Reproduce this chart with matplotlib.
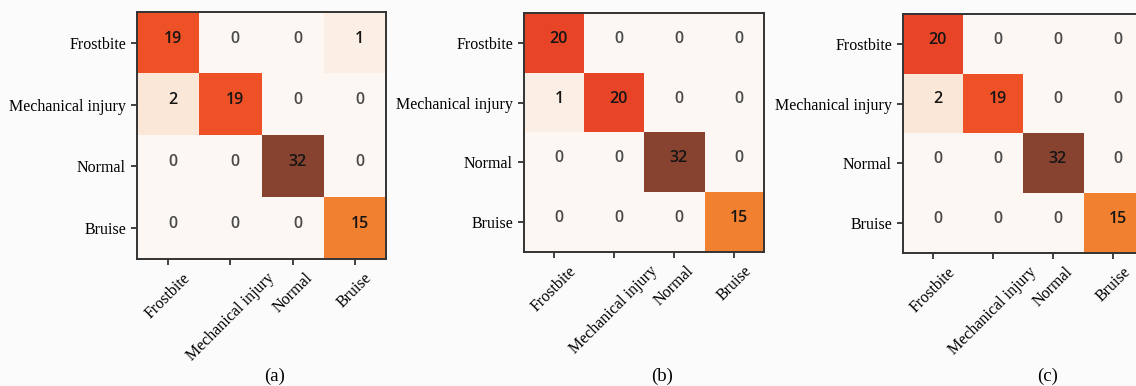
import numpy as np
import matplotlib
matplotlib.use("Agg")
import matplotlib.pyplot as plt
from matplotlib.colors import LinearSegmentedColormap

# Class names shared by every confusion matrix
classes = ["Frostbite", "Mechanical injury", "Normal", "Bruise"]

# Confusion matrices (rows: true class, columns: predicted class)
cm_a = [[19, 0, 0, 1],
        [2, 19, 0, 0],
        [0, 0, 32, 0],
        [0, 0, 0, 15]]
cm_b = [[20, 0, 0, 0],
        [1, 20, 0, 0],
        [0, 0, 32, 0],
        [0, 0, 0, 15]]
cm_c = [[20, 0, 0, 0],
        [2, 19, 0, 0],
        [0, 0, 32, 0],
        [0, 0, 0, 15]]
panel_labels = ["(a)", "(b)", "(c)"]

# Warm sequential palette: cream -> orange -> red-orange -> brown
cmap = LinearSegmentedColormap.from_list(
    "warm",
    [(0.0, "#fcf7f2"), (15 / 32, "#f28131"), (19 / 32, "#ef5226"),
     (20 / 32, "#e94628"), (1.0, "#87432f")])

fig = plt.figure(figsize=(11.36, 3.86), dpi=100, facecolor="#fbfbfb")

# axes rectangles [left, bottom, width, height] in figure fractions
rects = [[0.1206, 0.329, 0.2192, 0.640],
         [0.4613, 0.347, 0.2113, 0.619],
         [0.7949, 0.3446, 0.2113, 0.619]]
caption_x = [0.242, 0.583, 0.922]

serif = "Liberation Serif"

for cm, rect, lab, cx in zip([cm_a, cm_b, cm_c], rects, panel_labels, caption_x):
    data = np.array(cm)
    ax = fig.add_axes(rect)
    ax.imshow(data, cmap=cmap, vmin=0, vmax=32, aspect="auto",
              interpolation="nearest")
    n = len(classes)
    for i in range(n):
        for j in range(n):
            ax.annotate(str(data[i, j]), xy=(j, i), xytext=(3.5, 3),
                        textcoords="offset points", ha="center", va="center",
                        fontsize=11.5, fontweight=600,
                        color="#151515" if data[i, j] else "#4a4a4a",
                        family=["Open Sans", "DejaVu Sans"])
    ax.set_xticks(range(n))
    ax.set_yticks(range(n))
    ax.set_xticklabels(classes, rotation=45, family=serif, fontsize=11.5)
    ax.set_yticklabels(classes, family=serif, fontsize=11.5)
    ax.tick_params(length=4, width=1.3, color="#333333", pad=4)
    for sp in ax.spines.values():
        sp.set_linewidth(1.4)
        sp.set_color("#333333")
    fig.text(cx, 0.026, lab, ha="center", va="center", family=serif,
             fontsize=13.5)

fig.savefig("out.png", dpi=100, facecolor=fig.get_facecolor())
